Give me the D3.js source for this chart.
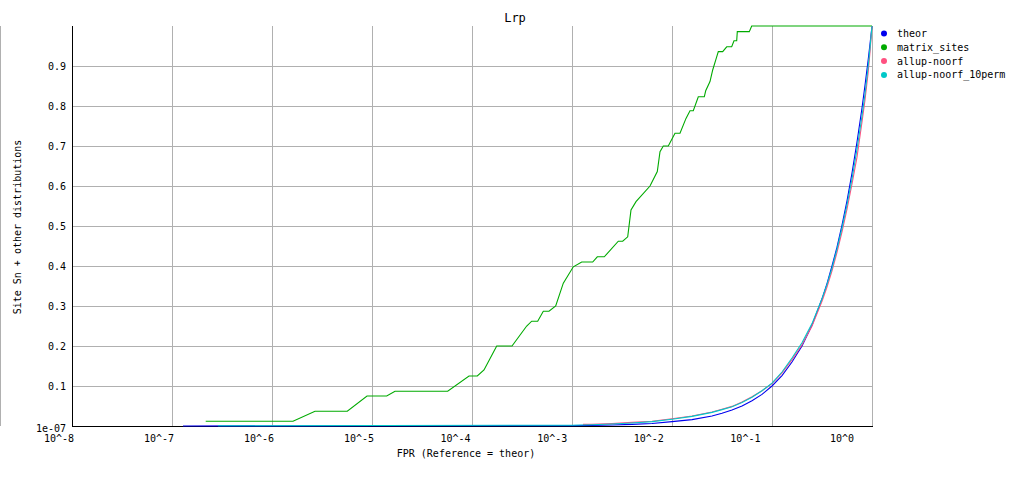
<!DOCTYPE html>
<html>
<head>
<meta charset="utf-8">
<script src="https://cdn.jsdelivr.net/npm/d3@7"></script>
<style>
  body { margin: 0; background: #fff; }
  svg { display: block; }
  text { font-family: "DejaVu Sans Mono", monospace; fill: #000; }
</style>
</head>
<body>
<svg id="chart" width="1030" height="478"></svg>
<script>
// ---- data ----
const title = "Lrp";
const xTitle = "FPR (Reference = theor)";
const yTitle = "Site Sn + other distributions";
const seriesNames = ["theor", "matrix_sites", "allup-noorf", "allup-noorf_10perm"];
const seriesColors = ["#0000ee", "#00aa00", "#ff5080", "#00c8c8"];
const xTickExponents = [-8, -7, -6, -5, -4, -3, -2, -1, 0];
const xTickLabels = ["10^-8", "10^-7", "10^-6", "10^-5", "10^-4", "10^-3", "10^-2", "10^-1", "10^0"];
const yTickValues = [0, 0.1, 0.2, 0.3, 0.4, 0.5, 0.6, 0.7, 0.8, 0.9];
const yTickLabels = ["1e-07", "0.1", "0.2", "0.3", "0.4", "0.5", "0.6", "0.7", "0.8", "0.9"];

// theor: log10(FPR) and Sn
const theorLogFPR = [-6.89, -3.0, -2.8, -2.6, -2.4, -2.2, -2.0, -1.8, -1.6, -1.5, -1.4, -1.3, -1.2, -1.1, -1.0, -0.9, -0.8, -0.7, -0.6, -0.5, -0.45, -0.4, -0.35, -0.3, -0.25, -0.2, -0.15, -0.1, -0.07, -0.04, -0.02, 0];
const theorSn     = [0, 0.001, 0.0016, 0.0025, 0.004, 0.0063, 0.011, 0.016, 0.025, 0.032, 0.04, 0.05, 0.063, 0.079, 0.1, 0.126, 0.16, 0.2, 0.252, 0.318, 0.356, 0.4, 0.447, 0.502, 0.563, 0.632, 0.71, 0.795, 0.852, 0.912, 0.955, 1.0];

// matrix_sites
const matrixLogFPR = [-6.663, -5.79, -5.57, -5.247, -5.05, -4.853, -4.77, -4.243, -4.03, -3.947, -3.88, -3.753, -3.6, -3.453, -3.403, -3.343, -3.287, -3.23, -3.163, -3.087, -2.987, -2.903, -2.793, -2.747, -2.677, -2.537, -2.493, -2.443, -2.41, -2.36, -2.22, -2.147, -2.12, -2.087, -2.037, -1.97, -1.92, -1.86, -1.82, -1.787, -1.737, -1.677, -1.663, -1.62, -1.593, -1.56, -1.537, -1.493, -1.453, -1.403, -1.38, -1.353, -1.347, -1.227, -1.203, 0];
const matrixSn     = [0.012, 0.012, 0.037, 0.037, 0.075, 0.075, 0.087, 0.087, 0.125, 0.125, 0.14, 0.2, 0.2, 0.25, 0.262, 0.262, 0.287, 0.287, 0.3, 0.357, 0.398, 0.41, 0.41, 0.423, 0.423, 0.462, 0.462, 0.473, 0.54, 0.561, 0.6, 0.636, 0.686, 0.7, 0.7, 0.732, 0.732, 0.769, 0.788, 0.788, 0.823, 0.823, 0.838, 0.861, 0.89, 0.917, 0.936, 0.936, 0.948, 0.948, 0.963, 0.963, 0.986, 0.986, 1.0, 1.0];

// allup-noorf
const noorfLogFPR = [-2.89, -2.8, -2.6, -2.4, -2.2, -2.0, -1.8, -1.6, -1.5, -1.4, -1.3, -1.2, -1.1, -1.0, -0.9, -0.8, -0.7, -0.6, -0.5, -0.45, -0.4, -0.35, -0.3, -0.25, -0.2, -0.15, -0.1, -0.07, -0.04, -0.02, 0];
const noorfSn     = [0.004, 0.004, 0.006, 0.009, 0.012, 0.018, 0.025, 0.035, 0.042, 0.049, 0.06, 0.073, 0.088, 0.106, 0.133, 0.166, 0.203, 0.25, 0.312, 0.347, 0.388, 0.434, 0.485, 0.542, 0.605, 0.672, 0.76, 0.815, 0.88, 0.935, 1.0];

// allup-noorf_10perm
const permLogFPR = [-6.54, -3.0, -2.8, -2.6, -2.4, -2.2, -2.0, -1.8, -1.6, -1.5, -1.4, -1.3, -1.2, -1.1, -1.0, -0.9, -0.8, -0.7, -0.6, -0.5, -0.45, -0.4, -0.35, -0.3, -0.25, -0.2, -0.15, -0.1, -0.07, -0.04, -0.02, 0];
const permSn     = [0.0005, 0.002, 0.003, 0.005, 0.0075, 0.011, 0.017, 0.024, 0.034, 0.041, 0.048, 0.059, 0.072, 0.088, 0.107, 0.135, 0.17, 0.208, 0.256, 0.318, 0.354, 0.395, 0.442, 0.495, 0.553, 0.618, 0.692, 0.775, 0.83, 0.895, 0.945, 1.0];

// ---- drawing ----
const svg = d3.select("#chart");
const pLeft = 72, pRight = 872, pTop = 26, pBottom = 426;

const x = d3.scaleLog().domain([1e-8, 1]).range([pLeft, pRight]);
const y = d3.scaleLinear().domain([0, 1]).range([pBottom, pTop]);
// tick labels in the reference drift slightly left of their grid lines
const xLabelPos = d3.scaleLinear().domain([-8, -5, 0]).range([pLeft - 13, x(1e-5) - 13, pRight - 30]);

const crisp = "crispEdges";
const grid = svg.append("g");
xTickExponents.slice(1).forEach(e => {
  const gx = Math.round(x(Math.pow(10, e))) + 0.5;
  grid.append("line")
    .attr("x1", gx).attr("x2", gx)
    .attr("y1", pTop).attr("y2", pBottom)
    .attr("stroke", "#b0b0b0").attr("shape-rendering", crisp);
});
yTickValues.slice(1).forEach(v => {
  const gy = Math.round(y(v)) + 0.5;
  grid.append("line")
    .attr("x1", pLeft).attr("x2", pRight)
    .attr("y1", gy).attr("y2", gy)
    .attr("stroke", "#b0b0b0").attr("shape-rendering", crisp);
});

// outer gray frame line on the far left
svg.append("line").attr("x1", 0.5).attr("x2", 0.5).attr("y1", pTop).attr("y2", pBottom)
  .attr("stroke", "#b0b0b0").attr("shape-rendering", crisp);

// axes lines
svg.append("line").attr("x1", pLeft + 0.5).attr("x2", pLeft + 0.5).attr("y1", pTop).attr("y2", pBottom + 1)
  .attr("stroke", "#000").attr("shape-rendering", crisp);
svg.append("line").attr("x1", pLeft).attr("x2", pRight + 1).attr("y1", pBottom + 0.5).attr("y2", pBottom + 0.5)
  .attr("stroke", "#000").attr("shape-rendering", crisp);

// series
const series = [
  { lx: theorLogFPR, sn: theorSn },
  { lx: matrixLogFPR, sn: matrixSn },
  { lx: noorfLogFPR, sn: noorfSn },
  { lx: permLogFPR, sn: permSn }
];
const line = d3.line().x(d => x(Math.pow(10, d[0]))).y(d => y(d[1]));
series.forEach((s, i) => {
  const pts = s.lx.map((v, k) => [v, s.sn[k]]);
  svg.append("path").attr("d", line(pts))
    .attr("fill", "none").attr("stroke", seriesColors[i]).attr("stroke-width", 1.1);
});

// y tick labels
yTickValues.forEach((v, i) => {
  svg.append("text")
    .attr("x", 66).attr("y", i === 0 ? y(v) + 6 : y(v) + 4)
    .attr("text-anchor", "end").attr("font-size", 10)
    .text(yTickLabels[i]);
});

// x tick labels
xTickExponents.forEach((e, i) => {
  svg.append("text")
    .attr("x", xLabelPos(e)).attr("y", 442)
    .attr("text-anchor", "middle").attr("font-size", 10)
    .text(xTickLabels[i]);
});

// titles
svg.append("text").attr("x", 515).attr("y", 22).attr("text-anchor", "middle")
  .attr("font-size", 12).text(title);
svg.append("text").attr("x", 466).attr("y", 457).attr("text-anchor", "middle")
  .attr("font-size", 10).text(xTitle);
svg.append("text").attr("transform", "translate(21,227) rotate(-90)")
  .attr("text-anchor", "middle").attr("font-size", 10).text(yTitle);

// legend
seriesNames.forEach((n, i) => {
  const ly = 33.5 + 13.8 * i;
  svg.append("circle").attr("cx", 884).attr("cy", ly).attr("r", 3).attr("fill", seriesColors[i]);
  svg.append("text").attr("x", 897).attr("y", ly + 3.5).attr("font-size", 10).text(n);
});
</script>
</body>
</html>
